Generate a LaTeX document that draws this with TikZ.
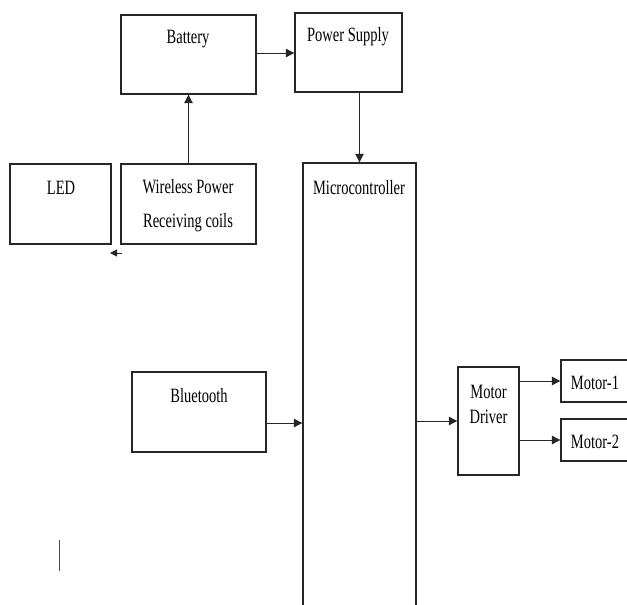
\documentclass[tikz,border=0pt]{standalone}
\usepackage{fontspec}
\setmainfont{Liberation Serif}
\usetikzlibrary{arrows.meta}
\newcommand{\tall}[1]{\scalebox{1}[1.4]{#1}}

\begin{document}
\begin{tikzpicture}[x=1pt,y=-1pt,
  blk/.style={draw=black!85, line width=1.4pt, rectangle, inner sep=0pt},
  txt/.style={inner sep=0pt, font=\fontsize{14.5}{34}\selectfont, align=center},
  arr/.style={draw=black!85, line width=1pt, -{Triangle[length=8.5pt,width=8.5pt]}}]

\clip (0,0) rectangle (627,605);
\fill [white] (0,0) rectangle (627,605);

% blocks
\node [blk, minimum width=135pt, minimum height=79pt] (bat) at (188.5,54.5) {};
\node [blk, minimum width=107pt, minimum height=79pt] (ps) at (348.5,52.5) {};
\node [blk, minimum width=101pt, minimum height=80pt] (led) at (60.5,204) {};
\node [blk, minimum width=135pt, minimum height=80pt] (wpr) at (188.5,204) {};
\node [blk, minimum width=113pt, minimum height=537pt] (mcu) at (359.5,431.5) {};
\node [blk, minimum width=134pt, minimum height=80pt] (bt) at (199,412) {};
\node [blk, minimum width=61pt, minimum height=108pt] (md) at (488.5,421) {};
\node [blk, minimum width=80pt, minimum height=42pt] (mot1) at (601,381) {};
\node [blk, minimum width=80pt, minimum height=42pt] (mot2) at (601,440) {};

% labels
\node [txt] (batT) at (188,39) {\tall{Battery}};
\node [txt] (psT) at (348,37) {\tall{Power Supply}};
\node [txt] (ledT) at (61,188) {\tall{LED}};
\node [txt] (wprT) at (188,206) {\tall{Wireless Power}\\\tall{Receiving coils}};
\node [txt] (mcuT) at (359,188) {\tall{Microcontroller}};
\node [txt] (btT) at (199,396) {\tall{Bluetooth}};
\node [txt, font=\fontsize{14.5}{25}\selectfont] (mdT) at (488.5,404) {\tall{Motor}\\\tall{Driver}};
\node [txt] (mot1T) at (595,383) {\tall{Motor-1}};
\node [txt] (mot2T) at (595,442) {\tall{Motor-2}};

% connections
\draw [arr] (bat.east |- 0,53) -- (ps.west |- 0,53);
\draw [arr] (wpr.north) -- (bat.south);
\draw [arr] (ps.south -| mcu.north) -- (mcu.north);
\draw [arr] ([yshift=-11pt]bt.east) -- ([yshift=-11pt]bt.east -| mcu.west);
\draw [arr] (md.west -| mcu.east) -- (md.west);
\draw [arr] (md.east |- mot1.west) -- (mot1.west);
\draw [arr] (md.east |- mot2.west) -- (mot2.west);

\coordinate (ledA) at (122,253);
\coordinate (ledB) at (110,253);
\draw [draw=black!85, line width=1pt, -{Triangle[length=7pt,width=7pt]}] (ledA) -- (ledB);

\coordinate (markA) at (59,540);
\coordinate (markB) at (59,571);
\draw [black!70, line width=0.8pt] (markA) -- (markB);

\end{tikzpicture}
\end{document}
